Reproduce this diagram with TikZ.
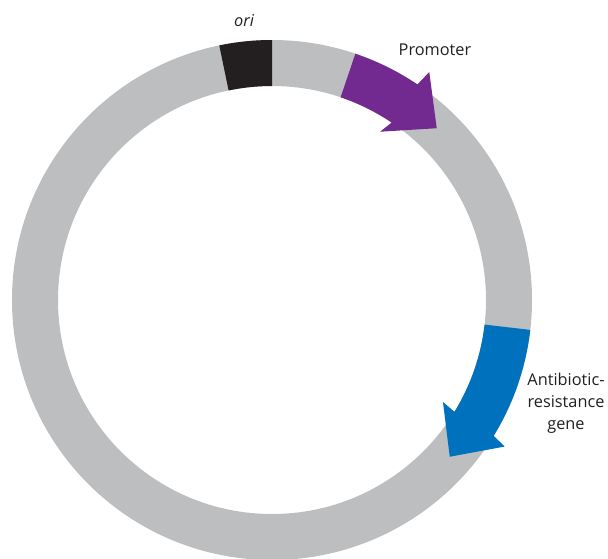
\documentclass[tikz,border=0pt]{standalone}
\usepackage{fontspec}
\setmainfont{Open Sans}
\usetikzlibrary{calc}
\definecolor{ringgray}{HTML}{BCBEC0}
\definecolor{oriblack}{HTML}{231F20}
\definecolor{promo}{HTML}{732A90}
\definecolor{resist}{HTML}{0071BC}
\definecolor{txt}{HTML}{231F20}
\tikzset{lbl/.style={font=\fontsize{16.3}{22}\selectfont, text=txt, inner sep=0pt, align=center}}
\begin{document}
\begin{tikzpicture}[x=1pt,y=1pt]
\useasboundingbox (0,0) rectangle (608,-558);
\coordinate (c) at (272,-300);
\fill[ringgray,even odd rule] (c) circle[radius=260] (c) circle[radius=214];
\fill[oriblack] ($(c)+(90:260)$) arc[start angle=90,end angle=101.7,radius=260] -- ($(c)+(101.7:214)$) arc[start angle=101.7,end angle=90,radius=214] -- cycle;
\fill[promo] ($(c)+(71.3:260)$) arc[start angle=71.3,end angle=56,radius=260] -- ($(c)+(55.4:277)$) -- ($(c)+(46.2:238)$) -- ($(c)+(57.3:200)$) -- ($(c)+(56:214)$) arc[start angle=56,end angle=71.3,radius=214] -- cycle;
\fill[resist] ($(c)+(-6.6:260)$) arc[start angle=-6.6,end angle=-31.5,radius=260] -- ($(c)+(-32.2:275)$) -- ($(c)+(-41.4:237)$) -- ($(c)+(-30.8:199)$) -- ($(c)+(-31.5:214)$) arc[start angle=-31.5,end angle=-6.6,radius=214] -- cycle;
\node[lbl,font=\fontsize{16.3}{22}\selectfont\itshape] (ori) at (244,-21) {ori};
\node[lbl] (prom) at (435,-50) {Promoter};
\node[lbl] (abr) at (566,-403) {Antibiotic-\\resistance\\gene};
\end{tikzpicture}
\end{document}
